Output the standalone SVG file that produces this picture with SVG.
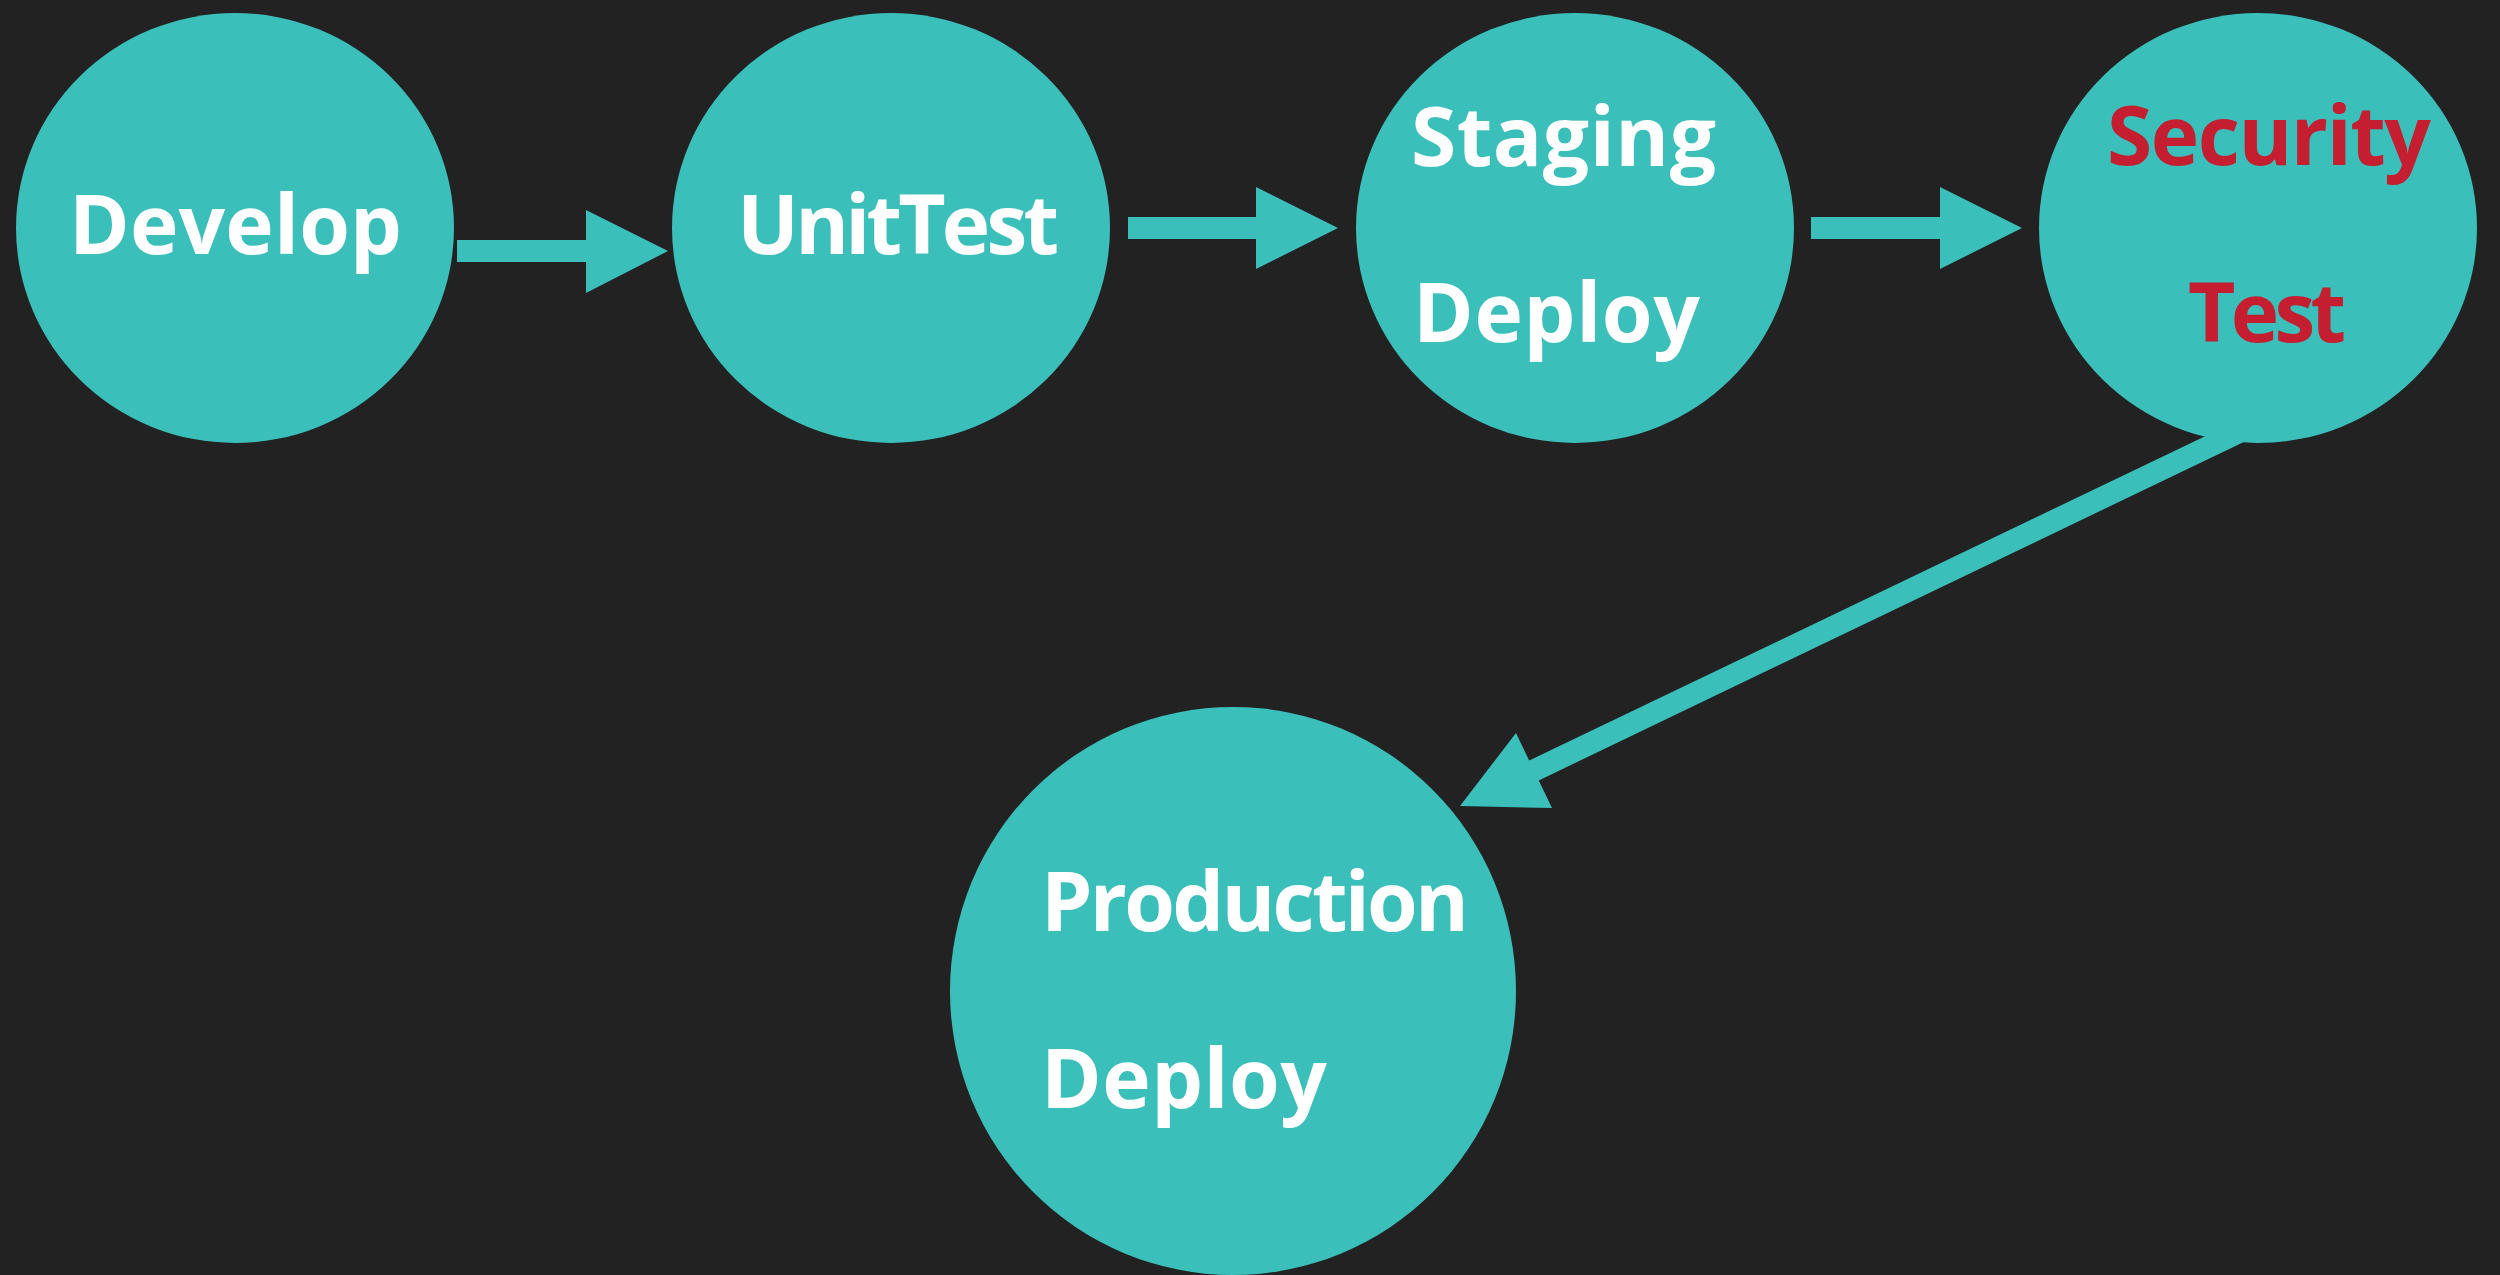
<svg xmlns="http://www.w3.org/2000/svg" width="2500" height="1275" viewBox="0 0 2500 1275">
<style>
.node{fill:#3ABFBA;}
.conn{fill:#3ABFBA;}
.lbl{font-family:"Open Sans","Lato","Liberation Sans",sans-serif;font-weight:700;font-size:82px;fill:#FFFFFF;font-variant-ligatures:none;}
.red{fill:#C41E30;}
</style>
<rect x="0" y="0" width="2500" height="1275" fill="#222222"/>
<g id="connectors">
<polygon class="conn" points="457,240 586,240 586,210 668,251 586,293 586,262 457,262"/>
<polygon class="conn" points="1128,217 1256,217 1256,187 1338,228 1256,269 1256,239 1128,239"/>
<polygon class="conn" points="1811,217 1940,217 1940,187 2022,228 1940,269 1940,239 1811,239"/>
<polygon class="conn" points="2245.2,416.9 1529.2,760.6 1516,733 1460,806 1552,808 1538.8,780.4 2254.8,436.7"/>
</g>
<g id="develop">
<ellipse class="node" cx="235" cy="228" rx="219" ry="215"/>
<text class="lbl" x="69" y="254" textLength="333">Develop</text>
</g>
<g id="unittest">
<ellipse class="node" cx="891" cy="228" rx="219" ry="215"/>
<text class="lbl" x="737" y="254" textLength="322">UnitTest</text>
</g>
<g id="staging">
<ellipse class="node" cx="1575" cy="228" rx="219" ry="215"/>
<text class="lbl" x="1411" y="166" textLength="305">Staging</text>
<text class="lbl" x="1413" y="342" textLength="287">Deploy</text>
</g>
<g id="security">
<ellipse class="node" cx="2258" cy="228" rx="219" ry="215"/>
<text class="lbl red" x="2107" y="165" textLength="324">Security</text>
<text class="lbl red" x="2188" y="342" textLength="158">Test</text>
</g>
<g id="production">
<ellipse class="node" cx="1233" cy="991" rx="283" ry="284"/>
<text class="lbl" x="1041" y="931" textLength="428">Production</text>
<text class="lbl" x="1041" y="1108" textLength="286">Deploy</text>
</g>
</svg>
